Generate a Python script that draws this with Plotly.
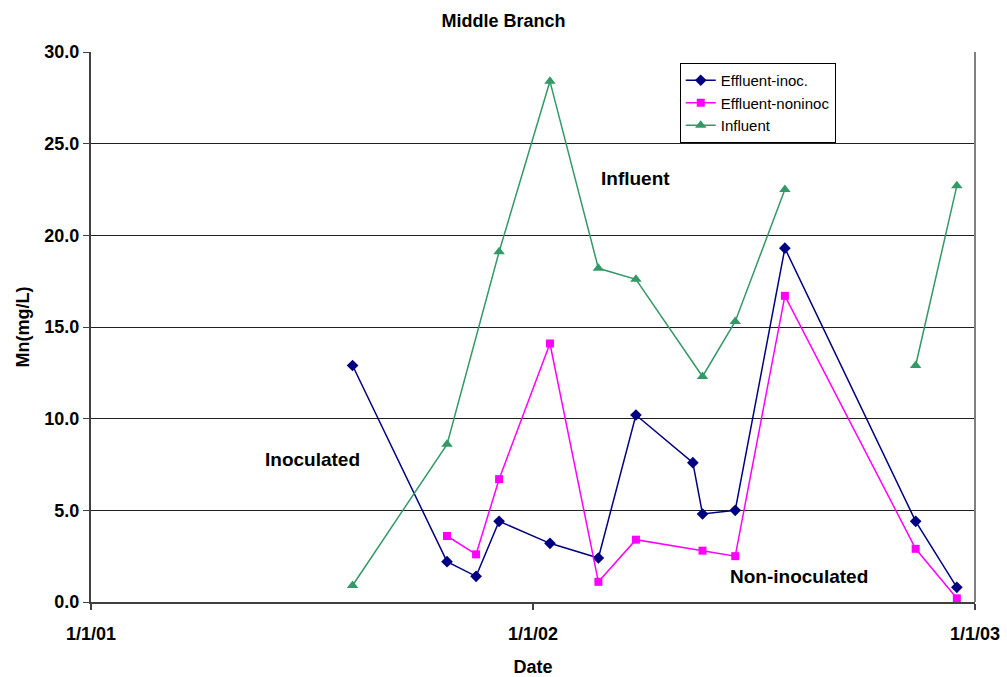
import plotly.graph_objects as go

# Effluent, inoculated cell
inoc_dates = ["2001-08-05", "2001-10-22", "2001-11-15", "2001-12-04", "2002-01-15",
              "2002-02-24", "2002-03-27", "2002-05-13", "2002-05-21", "2002-06-17",
              "2002-07-28", "2002-11-13", "2002-12-17"]
inoc_mn = [12.9, 2.2, 1.4, 4.4, 3.2, 2.4, 10.2, 7.6, 4.8, 5.0, 19.3, 4.4, 0.8]

# Effluent, non-inoculated cell
noninoc_dates = ["2001-10-22", "2001-11-15", "2001-12-04", "2002-01-15", "2002-02-24",
                 "2002-03-27", "2002-05-21", "2002-06-17", "2002-07-28", "2002-11-13",
                 "2002-12-17"]
noninoc_mn = [3.6, 2.6, 6.7, 14.1, 1.1, 3.4, 2.8, 2.5, 16.7, 2.9, 0.2]

# Influent (no sample in early autumn 2002, so the line breaks)
influent_dates = ["2001-08-05", "2001-10-22", "2001-12-04", "2002-01-15", "2002-02-24",
                  "2002-03-27", "2002-05-21", "2002-06-17", "2002-07-28", "2002-09-20",
                  "2002-11-13", "2002-12-17"]
influent_mn = [0.9, 8.6, 19.1, 28.4, 18.2, 17.6, 12.3, 15.3, 22.5, None, 12.9, 22.7]

x_tick_vals = ["2001-01-01", "2002-01-01", "2003-01-01"]
x_tick_text = ["1/1/01", "1/1/02", "1/1/03"]
y_tick_vals = [0, 5, 10, 15, 20, 25, 30]
y_tick_text = ["0.0", "5.0", "10.0", "15.0", "20.0", "25.0", "30.0"]

NAVY = "#000080"
MAGENTA = "#FF00FF"
GREEN = "#339966"
FONT = "Liberation Sans, Arial, sans-serif"

fig = go.Figure()
fig.add_trace(go.Scatter(
    x=inoc_dates, y=inoc_mn, name="Effluent-inoc.", mode="lines+markers",
    line=dict(color=NAVY, width=1.5),
    marker=dict(symbol="diamond", size=9, color=NAVY),
))
fig.add_trace(go.Scatter(
    x=noninoc_dates, y=noninoc_mn, name="Effluent-noninoc", mode="lines+markers",
    line=dict(color=MAGENTA, width=1.5),
    marker=dict(symbol="square", size=8, color=MAGENTA),
))
fig.add_trace(go.Scatter(
    x=influent_dates, y=influent_mn, name="Influent", mode="lines+markers",
    line=dict(color=GREEN, width=1.5), connectgaps=False,
    marker=dict(symbol="triangle-up", size=10, color=GREEN),
))

label_style = dict(family=FONT, size=19, color="black")
fig.add_annotation(x="2002-03-27", y=23.1, text="<b>Influent</b>", showarrow=False,
                   font=label_style)
fig.add_annotation(x="2001-07-03", y=7.8, text="<b>Inoculated</b>", showarrow=False,
                   font=label_style)
fig.add_annotation(x="2002-08-09", y=1.4, text="<b>Non-inoculated</b>", showarrow=False,
                   font=label_style)

fig.update_layout(
    width=1007, height=677,
    margin=dict(l=91, r=32, t=52, b=75),
    paper_bgcolor="white", plot_bgcolor="white",
    font=dict(family=FONT, color="black"),
    title=dict(text="<b>Middle Branch</b>", x=0.5, xref="container", xanchor="center",
               y=0.97, yref="container", yanchor="middle",
               font=dict(family=FONT, size=18, color="black")),
    showlegend=True,
    legend=dict(x=0.666, y=0.98, xanchor="left", yanchor="top",
                bgcolor="white", bordercolor="black", borderwidth=1,
                font=dict(family=FONT, size=15, color="black"),
                itemwidth=30, tracegroupgap=0),
    xaxis=dict(
        type="date", range=["2001-01-01", "2003-01-01"],
        tickvals=x_tick_vals, ticktext=x_tick_text, automargin=False,
        ticks="outside", ticklen=6, tickcolor="#404040", tickwidth=1.5,
        ticklabelstandoff=8,
        showgrid=False, zeroline=False,
        showline=True, linecolor="#404040", linewidth=2, mirror=False,
        tickfont=dict(family=FONT, size=18, color="black", weight="bold"),
        title=dict(text="<b>Date</b>", standoff=18,
                   font=dict(family=FONT, size=18, color="black")),
    ),
    yaxis=dict(
        range=[0, 30], tickvals=y_tick_vals, ticktext=y_tick_text, automargin=False,
        ticks="outside", ticklen=6, tickcolor="#404040", tickwidth=1,
        showgrid=True, gridcolor="#202020", gridwidth=1, zeroline=False,
        showline=True, linecolor="#404040", linewidth=2, mirror=False,
        tickfont=dict(family=FONT, size=18, color="black", weight="bold"),
        title=dict(text="<b>Mn(mg/L)</b>", standoff=10,
                   font=dict(family=FONT, size=18, color="black")),
    ),
)

# Right border of the plotting area
fig.add_shape(type="line", xref="paper", yref="paper", x0=1, x1=1, y0=0, y1=1,
              line=dict(color="#808080", width=2))

fig.write_html("out.html")
